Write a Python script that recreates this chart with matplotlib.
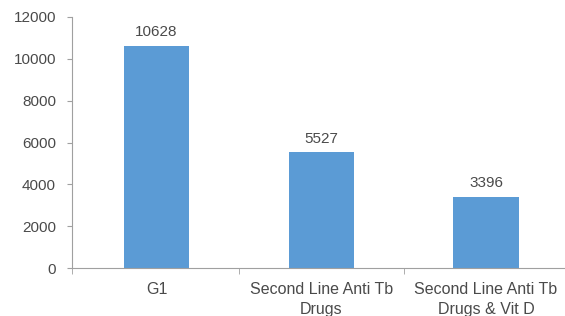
import matplotlib
matplotlib.use("Agg")
import matplotlib.pyplot as plt
import numpy as np

categories = ["G1", "Second Line Anti Tb\nDrugs", "Second Line Anti Tb\nDrugs & Vit D"]
values = [10628, 5527, 3396]
yticks = [0, 2000, 4000, 6000, 8000, 10000, 12000]

plt.rcParams['font.family'] = ['Liberation Sans', 'DejaVu Sans']
text_color = "#4a4a4a"
fig = plt.figure(figsize=(5.65, 3.16), dpi=100)
ax = fig.add_axes([72 / 565, 1 - 268 / 316, 496.4 / 565, 251 / 316])

x = np.arange(len(categories))
bar_color = "#5b9bd5"
ax.bar(x, values, width=0.395, color=bar_color, zorder=2)
for xi, v in zip(x, values):
    ax.annotate(str(v), (xi, v), xytext=(0, 4.7), textcoords="offset points",
                ha="center", va="bottom", fontsize=11, color=text_color)

xmin = -0.513
ax.set_xlim(xmin, len(categories) - 0.5)
ax.set_ylim(0, 12000)
ax.set_yticks(yticks)
ax.set_yticklabels([str(t) for t in yticks], fontsize=11, color=text_color)

ax.set_xticks(x)
ax.set_xticklabels(categories, fontsize=11.5, color=text_color, linespacing=1.4)
ax.tick_params(axis="x", which="major", length=0, pad=10)
ax.set_xticks([xmin] + list(np.arange(0.5, len(categories))), minor=True)
ax.tick_params(axis="x", which="minor", length=4, direction="out", color="#a0a0a0")
ax.tick_params(axis="y", length=3.6, direction="out", color="#a0a0a0", pad=8)

for side in ["top", "right"]:
    ax.spines[side].set_visible(False)
for side in ["left", "bottom"]:
    ax.spines[side].set_color("#a0a0a0")
    ax.spines[side].set_linewidth(0.8)

fig.savefig("out.png", dpi=100)
